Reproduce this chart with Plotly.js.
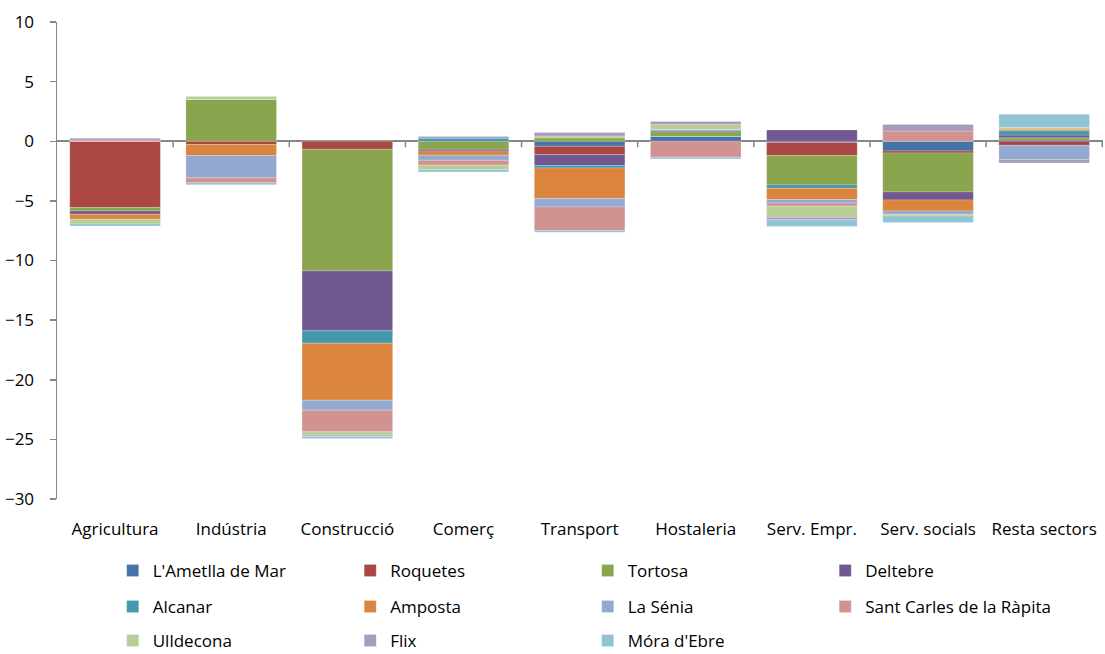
<!DOCTYPE html>
<html>
<head>
<meta charset="utf-8">
<script src="https://cdn.plot.ly/plotly-3.0.1.min.js"></script>
<style>html,body{margin:0;padding:0;background:#fff;}#chart{width:1105px;height:654px;}</style>
</head>
<body>
<div id="chart"></div>
<script>
const categories = ["Agricultura","Indústria","Construcció","Comerç","Transport","Hostaleria","Serv. Empr.","Serv. socials","Resta sectors"];
const seriesNames = ["L'Ametlla de Mar","Roquetes","Tortosa","Deltebre","Alcanar","Amposta","La Sénia","Sant Carles de la Ràpita","Ulldecona","Flix","Móra d'Ebre"];

const ametlla    = [0,     0,     0,     0,     -0.42, 0.40,  -0.10, -0.81, 0.10];
const roquetes   = [-5.56, -0.28, -0.67, 0,     -0.70, 0,     -1.10, -0.17, -0.34];
const tortosa    = [-0.28, 3.52,  -10.2, -0.67, 0.28,  0.40,  -2.46, -3.27, 0.20];
const deltebre   = [-0.28, 0,     -5.03, -0.14, -0.92, 0.10,  0.95,  -0.67, 0.22];
const alcanar    = [0,     0,     -1.03, 0.25,  -0.20, 0.10,  -0.28, 0,     0.36];
const amposta    = [-0.42, -0.92, -4.78, -0.36, -2.57, 0,     -0.95, -0.92, 0.14];
const lasenia    = [0,     -1.87, -0.84, -0.42, -0.70, 0,     -0.28, -0.28, -1.20];
const santcarles = [0.10,  -0.42, -1.82, -0.42, -1.98, -1.34, -0.28, 0.85,  0];
const ulldecona  = [-0.40, 0.25,  -0.28, -0.39, 0.17,  0.40,  -0.92, -0.14, 0.14];
const flix       = [0.15,  0,     -0.10, 0.15,  0.28,  0.25,  -0.22, 0.55,  -0.28];
const mora       = [-0.17, -0.15, -0.17, -0.17, -0.14, -0.14, -0.56, -0.56, 1.10];

const seriesValues = [ametlla, roquetes, tortosa, deltebre, alcanar, amposta, lasenia, santcarles, ulldecona, flix, mora];
const colors = ["#4572A7","#AA4643","#89A54E","#71588F","#4198AF","#DB843D","#93A9CF","#D19392","#B9CD96","#A99BBD","#92C3D4"];
const legendOf = ["legend","legend","legend","legend","legend2","legend2","legend2","legend2","legend3","legend3","legend3"];

const traces = seriesNames.map((n, i) => ({
  type: "bar",
  name: n,
  x: categories,
  y: seriesValues[i],
  marker: {color: colors[i], line: {width: 0.6, color: "rgba(255,255,255,0.35)"}},
  legend: legendOf[i],
  hoverinfo: "name+y"
}));

const font = {family: "'Open Sans', Lato, sans-serif", size: 17, color: "#000"};
const legendBase = {
  orientation: "h", xref: "container", yref: "container", x: 0.102, xanchor: "left",
  yanchor: "middle", entrywidth: 192.5, entrywidthmode: "pixels",
  font: {family: "'Open Sans', Lato, sans-serif", size: 17, color: "#000"},
  bgcolor: "rgba(0,0,0,0)", traceorder: "normal", itemclick: false
};

const tickShapes = [];
for (let i = 0; i < categories.length; i++) {
  tickShapes.push({type: "line", xref: "x", yref: "y", x0: i + 0.5, x1: i + 0.5, y0: 0, y1: -0.5,
    line: {color: "#868686", width: 1.5}});
}

const layout = {
  width: 1105, height: 654,
  margin: {l: 57, r: 2, t: 22, b: 155},
  paper_bgcolor: "#fff", plot_bgcolor: "#fff",
  barmode: "relative", bargap: 0.22,
  font: font,
  showlegend: true,
  xaxis: {
    type: "category", showgrid: false, zeroline: false, showline: false,
    ticks: "", ticklabelstandoff: 18, tickfont: font, fixedrange: true
  },
  yaxis: {
    range: [-30, 10], dtick: 5, tick0: 0, showgrid: false,
    zeroline: true, zerolinecolor: "#868686", zerolinewidth: 2,
    showline: true, linecolor: "#868686", linewidth: 1.5,
    ticks: "outside", ticklen: 6, tickcolor: "#868686", tickwidth: 1.5,
    tickfont: font, ticklabelstandoff: 12, fixedrange: true
  },
  shapes: tickShapes,
  legend: Object.assign({}, legendBase, {y: 1 - 571/654}),
  legend2: Object.assign({}, legendBase, {y: 1 - 607/654}),
  legend3: Object.assign({}, legendBase, {y: 1 - 641/654})
};

Plotly.newPlot("chart", traces, layout, {displayModeBar: false, staticPlot: true});
</script>
</body>
</html>
